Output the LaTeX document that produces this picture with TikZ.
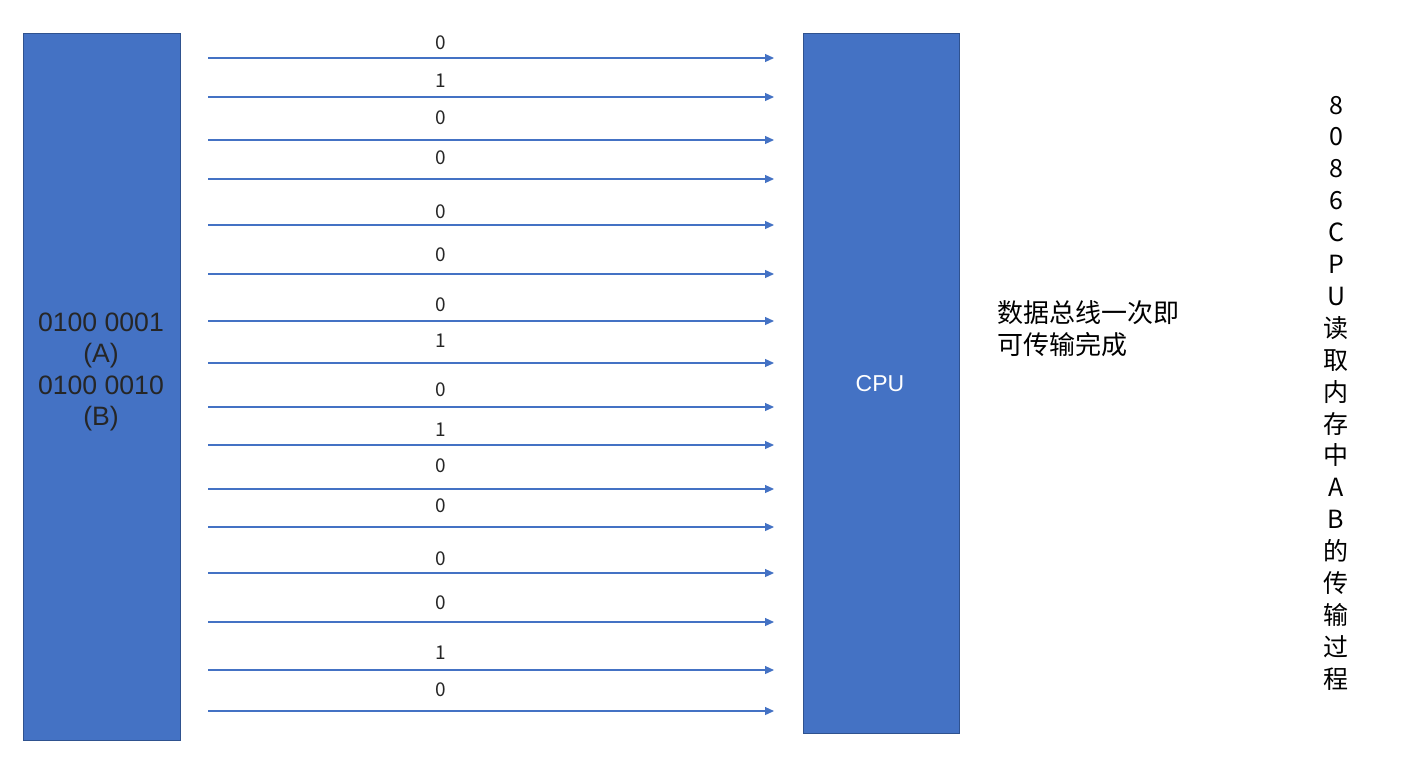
\documentclass[tikz,border=0pt]{standalone}
\usepackage{fontspec}
\setmainfont{Noto Sans CJK SC}
\newfontfamily\arialfont{Liberation Sans}
\usetikzlibrary{arrows.meta}
\definecolor{boxblue}{HTML}{4472C4}
\definecolor{boxedge}{HTML}{2F528F}
\definecolor{txt}{HTML}{262626}
\tikzset{
  blk/.style={draw=boxedge, line width=1pt, fill=boxblue, inner sep=0pt},
  bus/.style={draw=boxblue, line width=1.2pt, -{Triangle[length=9pt,width=8pt]}},
  bit/.style={text=txt, font=\fontsize{19}{19}\selectfont, inner sep=0pt, anchor=center},
}
\begin{document}
\begin{tikzpicture}[x=1pt,y=-1pt]
\useasboundingbox (0,0) rectangle (1410,782);
\node[blk, minimum width=157pt, minimum height=707pt, anchor=north west] (mem) at (23,33) {};
\node[blk, minimum width=156pt, minimum height=700pt, anchor=north west] (cpu) at (803,33) {};
\node[text=txt, align=center, font=\arialfont\fontsize{26.6}{31.3}\selectfont] (memtxt) at (101,372) {0100 0001\\(A)\\0100 0010\\(B)};
\node[text=white, font=\arialfont\fontsize{23}{23}\selectfont] (cputxt) at (880,384) {CPU};
\foreach \i/\y/\ly/\b in {1/58/43/0,2/97/81/1,3/140/118/0,4/179/158/0,5/225/212/0,6/274/255/0,7/321/305/0,8/363/341/1,9/407/390/0,10/445/430/1,11/489/466/0,12/527/506/0,13/573/559/0,14/622/603/0,15/670/653/1,16/711/690/0}{
  \coordinate (s\i) at (208,\y);
  \coordinate (e\i) at (774,\y);
  \draw[bus] (s\i) -- (e\i);
  \node[bit] (b\i) at (441,\ly) {\b};
}
\node[text=black, align=left, anchor=west, font=\fontsize{26}{32}\selectfont] (note) at (994,329) {数据总线一次即\\可传输完成};
\node[text=black, align=center, font=\fontsize{25}{31.9}\selectfont] (title) at (1336,393) {8\\0\\8\\6\\C\\P\\U\\读\\取\\内\\存\\中\\A\\B\\的\\传\\输\\过\\程};
\end{tikzpicture}
\end{document}
